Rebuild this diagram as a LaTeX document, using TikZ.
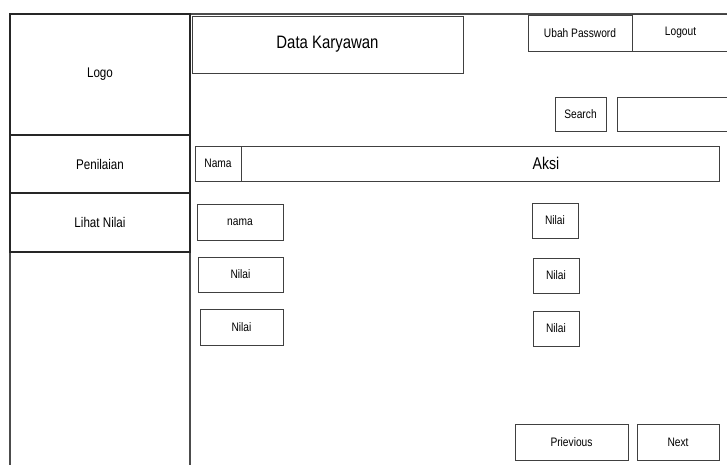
\documentclass[tikz,border=0pt]{standalone}
\usepackage{fontspec}
\setmainfont{Liberation Sans}[FakeStretch=0.83]
\usetikzlibrary{positioning}

\begin{document}
\begin{tikzpicture}[x=1pt,y=-1pt,node distance=0pt]
\tikzstyle{every node}=[inner sep=0pt,outer sep=0pt]
\tikzstyle{box}=[draw=black!75,line width=1pt,fill=white,anchor=north west,font=\fontsize{12.3}{14}\selectfont]
\tikzstyle{side}=[box,draw=black!85,line width=1.4pt,minimum width=180pt,font=\fontsize{14}{16}\selectfont]
\tikzstyle{frame}=[draw=black!70,line width=1.4pt]
\useasboundingbox (0,0) rectangle (727,464);
\clip (0,0) rectangle (727,464);

% page frame
\draw[frame] (10,14) rectangle (745,480);
\draw[frame] (190,14) -- (190,480);

% menu
\node[side,minimum height=121pt] (logo) at (10,14) {Logo};
\node[side,minimum height=58pt,below=of logo] (penilaian) {Penilaian};
\node[side,minimum height=59pt,below=of penilaian] (lihat) {Lihat Nilai};

% header
\node[box,minimum width=271pt,minimum height=57pt,font=\fontsize{18}{20}\selectfont] (title) at (192,16) {Data Karyawan};
\node[box,minimum width=104pt,minimum height=36pt] (ubah) at (528,15) {Ubah Password};
\node[box,minimum width=97pt,minimum height=37pt,right=of ubah] (logout) {Logout};
\node[box,minimum width=51pt,minimum height=34pt] (search) at (555,97) {Search};
\node[box,minimum width=112pt,minimum height=34pt,right=11pt of search] (field) {};

% table
\node[box,minimum width=46pt,minimum height=35pt] (kolnama) at (195,146) {Nama};
\node[box,minimum width=478pt,minimum height=35pt,right=of kolnama] (kolaksi) {};
\node[font=\fontsize{17}{19}\selectfont] (aksi) at (546,163.5) {Aksi};

\node[box,minimum width=86pt,minimum height=36pt] (nama) at (197,204) {nama};
\node[box,minimum width=85pt,minimum height=35pt] (nilaiA) at (198,257) {Nilai};
\node[box,minimum width=83pt,minimum height=36pt] (nilaiB) at (200,309) {Nilai};

\node[box,minimum width=46pt,minimum height=35pt] (aksiA) at (532,203) {Nilai};
\node[box,minimum width=46pt,minimum height=35pt] (aksiB) at (533,258) {Nilai};
\node[box,minimum width=46pt,minimum height=35pt] (aksiC) at (533,311) {Nilai};

% paging
\node[box,minimum width=113pt,minimum height=36pt] (prev) at (515,424) {Prievious};
\node[box,minimum width=82pt,minimum height=36pt,right=9pt of prev] (next) {Next};
\end{tikzpicture}
\end{document}
